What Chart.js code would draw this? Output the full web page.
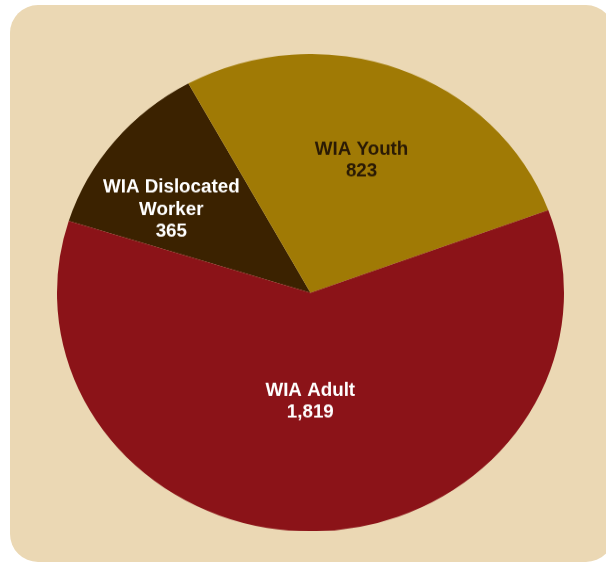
<!DOCTYPE html>
<html>
<head>
<meta charset="utf-8">
<script src="https://cdn.jsdelivr.net/npm/chart.js@4"></script>
<style>
  html, body { margin: 0; padding: 0; background: #ffffff; }
  body { width: 606px; height: 562px; position: relative; overflow: hidden; }
  #panel { position: absolute; left: 10px; top: 5px; width: 604px; height: 557px; border-radius: 28px; background: #EBD8B4; }
  #wrap { position: absolute; left: 0; top: 54.25px; width: 606px; height: 507px; transform-origin: 0 0; transform: scaleY(0.9418); }
  #c { display: block; }
</style>
</head>
<body>
<div id="panel"></div>
<div id="wrap"><canvas id="c" width="606" height="507"></canvas></div>
<script>
// Data
const categoryLines = [["WIA Dislocated", "Worker"], ["WIA Youth"], ["WIA Adult"]];
const categories = ["WIA Dislocated Worker", "WIA Youth", "WIA Adult"];
const values = [365, 823, 1819];

// Styles
const sliceColors = ["#3B2200", "#A07A05", "#8B1318"];
const labelColors = ["#FFFFFF", "#2A1A05", "#FFFFFF"];
const SQUISH = 0.9418;

const labelPlugin = {
  id: 'sliceLabels',
  afterDatasetsDraw(chart, args, opts) {
    const ctx = chart.ctx;
    const meta = chart.getDatasetMeta(0);
    meta.data.forEach((arc, i) => {
      const p = opts.placement[i];
      const mid = (arc.startAngle + arc.endAngle) / 2 + p.shift * Math.PI / 180;
      const r = arc.outerRadius * p.frac;
      const x = arc.x + Math.cos(mid) * r;
      const y = arc.y + Math.sin(mid) * r;
      const lines = categoryLines[i].concat([values[i].toLocaleString('en-US')]);
      ctx.save();
      ctx.translate(x, y);
      ctx.scale(1, 1 / SQUISH);
      ctx.font = 'bold 18.8px "Liberation Sans", Arial, sans-serif';
      ctx.fillStyle = labelColors[i];
      ctx.textAlign = 'center';
      ctx.textBaseline = 'middle';
      const lh = 22;
      const y0 = -(lines.length - 1) * lh / 2;
      lines.forEach((t, k) => ctx.fillText(t, 0, y0 + k * lh));
      ctx.restore();
    });
  }
};

new Chart(document.getElementById('c'), {
  type: 'pie',
  data: {
    labels: categories,
    datasets: [{
      data: values,
      backgroundColor: sliceColors,
      borderWidth: 0,
      hoverOffset: 0
    }]
  },
  options: {
    responsive: false,
    animation: false,
    rotation: -72.5,
    layout: { padding: { left: 57, right: 42, top: 0, bottom: 0 } },
    plugins: {
      legend: { display: false },
      tooltip: { enabled: false },
      title: { display: false },
      sliceLabels: {
        placement: [
          { frac: 0.65, shift: -7 },
          { frac: 0.59, shift: -0.5 },
          { frac: 0.456, shift: 1.5 }
        ]
      }
    }
  },
  plugins: [labelPlugin]
});
</script>
</body>
</html>
